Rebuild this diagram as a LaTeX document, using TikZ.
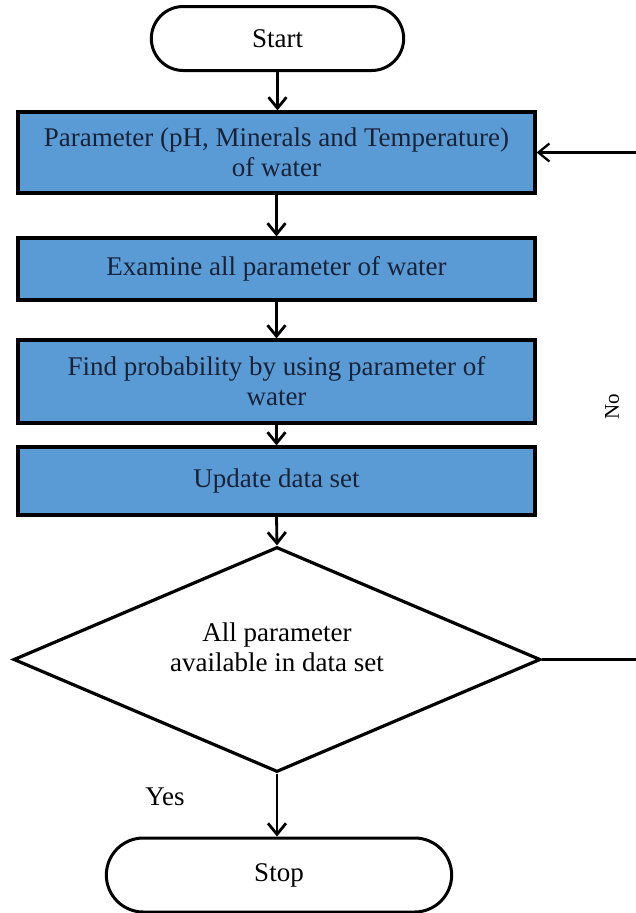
\documentclass[tikz,border=0pt]{standalone}
\usepackage{fontspec}
\setmainfont{Liberation Serif}
\usepackage{xcolor}
\usepackage{tikz}
\usetikzlibrary{arrows.meta,shapes.misc,shapes.geometric}
\definecolor{boxc}{RGB}{91,155,213}
\definecolor{txtc}{RGB}{24,34,56}
\newcommand{\bigtxt}{\fontsize{27}{30}\selectfont}

\begin{document}
\begin{tikzpicture}[x=1pt,y=1pt,>={Straight Barb[length=11pt,width=18pt]},
  term/.style={draw,line width=3pt,rounded rectangle,minimum width=#1,minimum height=64pt,font=\bigtxt},
  proc/.style={draw,line width=3.2pt,fill=boxc,text=txtc,minimum width=517pt,minimum height=#1,align=center,font=\bigtxt},
  flow/.style={->,line width=2.8pt}]
  \useasboundingbox (0,0) rectangle (636,-913);
  \node[term=259pt] (start) at (277.5,-38.5) {Start};
  \node[proc=81pt] (p1) at (276.5,-152.5) {Parameter (pH, Minerals and Temperature)\\of water};
  \node[proc=62pt] (p2) at (276.5,-269) {Examine all parameter of water};
  \node[proc=83pt] (p3) at (276.5,-381.5) {Find probability by using parameter of\\water};
  \node[proc=68pt] (p4) at (276.5,-481) {Update data set};
  \node[draw,diamond,line width=3.2pt,minimum width=527pt,minimum height=225pt,inner sep=0pt,
    label={[align=center,font=\bigtxt,yshift=12pt]center:All parameter\\available in data set}] (dec) at (277,-659.5) {};
  \node[term=352pt,minimum height=74pt] (stop) at (279,-875) {Stop};
  \node[font=\bigtxt] (yes) at (165,-797) {Yes};
  \node[font=\fontsize{21}{24}\selectfont,rotate=90] (no) at (612,-407) {No};
  \coordinate (rt) at (650,-659.5);
  % main line
  \draw[flow] (start.south) -- (start.south |- p1.north);
  \draw[flow] (p1.south) -- (p2.north);
  \draw[flow] (p2.south) -- (p3.north);
  \draw[flow] (p3.south) -- (p4.north);
  \draw[flow] (p4.south) -- (dec.north);
  \draw[flow] (dec.south) -- (dec.south |- stop.north);
  % back to the top when no
  \draw[flow,line width=2.3pt] (dec.east) -- (rt) |- (p1.east);
\end{tikzpicture}
\end{document}
